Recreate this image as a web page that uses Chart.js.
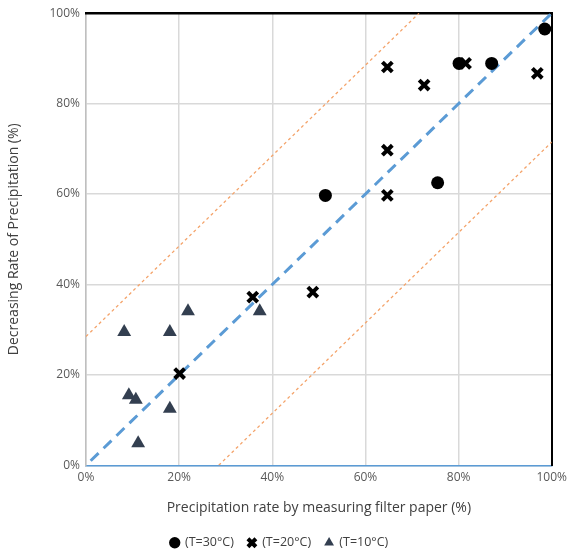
<!DOCTYPE html>
<html>
<head>
<meta charset="utf-8">
<script src="https://cdn.jsdelivr.net/npm/chart.js@4/dist/chart.umd.min.js"></script>
<style>
  html, body { margin: 0; padding: 0; background: #fff; }
  #wrap { width: 572px; height: 559px; }
</style>
</head>
<body>
<div id="wrap"><canvas id="precipChart"></canvas></div>
<script>
// values (percent)
const t30X = [51.4, 75.5, 80.1, 87.1, 98.5];
const t30Y = [59.7, 62.5, 88.9, 88.9, 96.5];

const t20X = [20.1, 35.8, 48.7, 64.7, 64.7, 64.7, 72.6, 81.5, 96.9];
const t20Y = [20.3, 37.2, 38.3, 59.7, 69.7, 88.1, 84.1, 88.9, 86.7];

const t10X = [8.2, 9.2, 10.7, 11.2, 18.0, 18.0, 21.9, 37.3];
const t10Y = [29.5, 15.5, 14.5, 4.9, 12.5, 29.5, 34.1, 34.1];

// reference lines: y = x and +/- 28.5 band
const fitX = [1, 100];
const fitY = [1, 100];
const upperX = [0, 71.5];
const upperY = [28.5, 100];
const lowerX = [28.5, 100];
const lowerY = [0, 71.5];

const seriesLabels = ['(T=30°C)', '(T=20°C)', '(T=10°C)'];
const tickValues = [0, 20, 40, 60, 80, 100];

function pts(xs, ys) {
  return xs.map(function (x, i) { return {x: x, y: ys[i]}; });
}

document.addEventListener('DOMContentLoaded', function () {
  const ctx = document.getElementById('precipChart').getContext('2d');
  new Chart(ctx, {
    type: 'scatter',
    data: {
      datasets: [
        {
          label: seriesLabels[0],
          data: pts(t30X, t30Y),
          pointStyle: 'circle',
          pointRadius: 6.5,
          backgroundColor: '#000000',
          borderColor: '#000000',
          borderWidth: 0,
          clip: false
        },
        {
          label: seriesLabels[1],
          data: pts(t20X, t20Y),
          pointStyle: 'crossRot',
          pointRadius: 7,
          backgroundColor: '#000000',
          borderColor: '#000000',
          borderWidth: 4,
          clip: false
        },
        {
          label: seriesLabels[2],
          data: pts(t10X, t10Y),
          pointStyle: 'triangle',
          pointRadius: 8,
          backgroundColor: '#333f50',
          borderColor: '#333f50',
          borderWidth: 0,
          clip: false
        },
        {
          label: 'fit',
          data: pts(fitX, fitY),
          showLine: true,
          pointRadius: 0,
          borderColor: '#5b9bd5',
          borderWidth: 3,
          borderDash: [11, 7]
        },
        {
          label: 'upper',
          data: pts(upperX, upperY),
          showLine: true,
          pointRadius: 0,
          borderColor: '#f4a36a',
          borderWidth: 1.3,
          borderDash: [3, 3]
        },
        {
          label: 'lower',
          data: pts(lowerX, lowerY),
          showLine: true,
          pointRadius: 0,
          borderColor: '#f4a36a',
          borderWidth: 1.3,
          borderDash: [3, 3]
        }
      ]
    },
    options: {
      responsive: true,
      maintainAspectRatio: false,
      animation: false,
      layout: { padding: { left: 6, right: 19, top: 13, bottom: 0 } },
      plugins: {
        tooltip: { enabled: false },
        legend: {
          display: true,
          position: 'bottom',
          labels: {
            usePointStyle: true,
            boxWidth: 8,
            boxHeight: 8,
            padding: 14,
            color: '#404040',
            font: { family: 'Open Sans', size: 12.5 },
            filter: function (item) { return item.datasetIndex < 3; }
          }
        }
      },
      scales: {
        x: {
          type: 'linear',
          min: 0,
          max: 100,
          afterBuildTicks: function (s) { s.ticks = tickValues.map(function (v) { return {value: v}; }); },
          ticks: {
            color: '#595959',
            font: { family: 'Open Sans', size: 12 },
            padding: 5,
            callback: function (v) { return v + '%'; }
          },
          grid: { color: '#d9d9d9', lineWidth: 1.5, drawTicks: false },
          border: { color: '#5b9bd5', width: 1.5 },
          title: {
            display: true,
            text: 'Precipitation rate by measuring filter paper (%)',
            color: '#404040',
            font: { family: 'Open Sans', size: 14 },
            padding: { top: 10, bottom: 6 }
          }
        },
        y: {
          type: 'linear',
          min: 0,
          max: 100,
          afterBuildTicks: function (s) { s.ticks = tickValues.map(function (v) { return {value: v}; }); },
          afterFit: function (s) { s.width = 80; },
          ticks: {
            color: '#595959',
            font: { family: 'Open Sans', size: 12 },
            padding: 6,
            callback: function (v) { return v + '%'; }
          },
          grid: { color: '#d9d9d9', lineWidth: 1.5, drawTicks: false },
          border: { color: '#bfbfbf', width: 1.5 },
          title: {
            display: true,
            text: 'Decreasing Rate of Precipitation (%)',
            color: '#404040',
            font: { family: 'Open Sans', size: 14 },
            padding: { top: 0, bottom: 2 }
          }
        },
        x2: {
          type: 'linear',
          position: 'top',
          min: 0,
          max: 100,
          afterFit: function (s) { s.height = 0; },
          ticks: { display: false },
          grid: { display: false, drawTicks: false },
          border: { color: '#000000', width: 2.5 }
        },
        y2: {
          type: 'linear',
          position: 'right',
          min: 0,
          max: 100,
          afterFit: function (s) { s.width = 0; },
          ticks: { display: false },
          grid: { display: false, drawTicks: false },
          border: { color: '#000000', width: 2 }
        }
      }
    }
  });
});
</script>
</body>
</html>
